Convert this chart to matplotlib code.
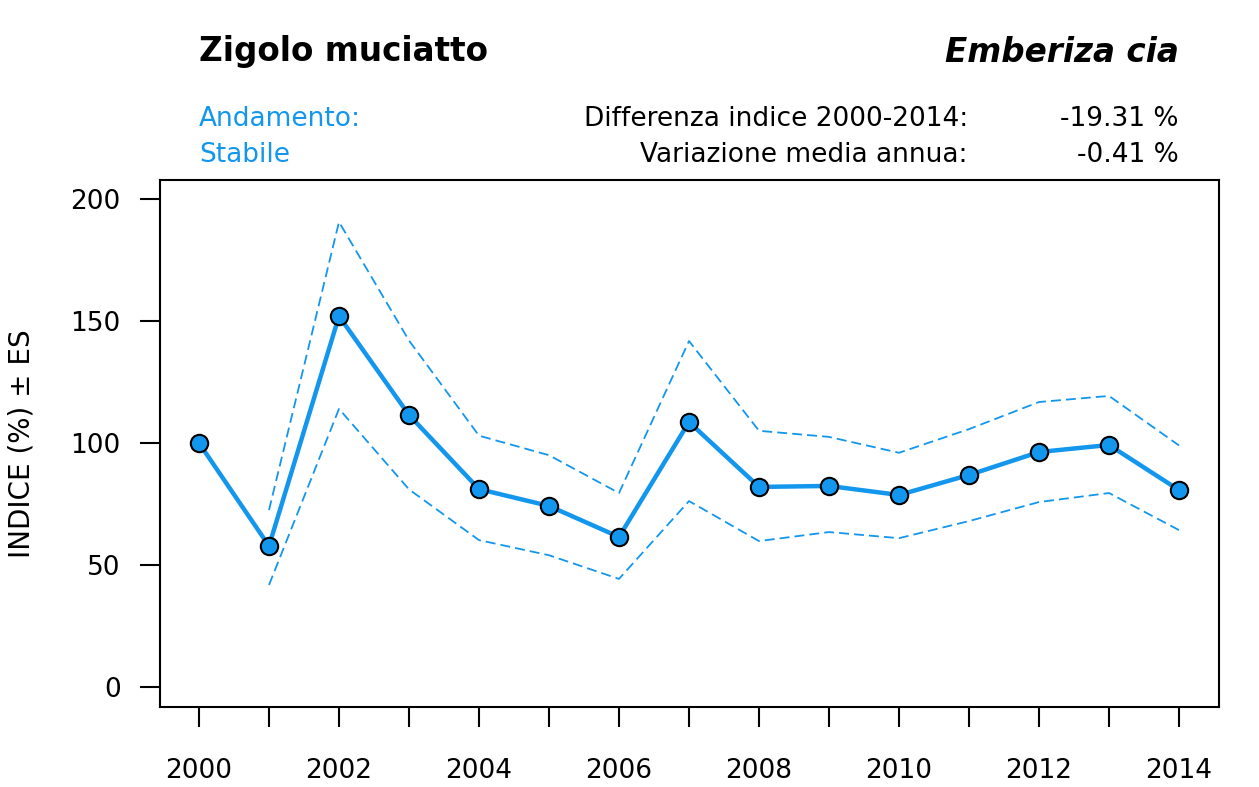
import numpy as np
import matplotlib
matplotlib.use('Agg')
import matplotlib.pyplot as plt

plt.rcParams['font.family'] = ['DejaVu Sans']

# Index values
years = list(range(2000, 2015))
indice = [100, 57.8, 152, 111.5, 81.1, 74.2, 61.5, 108.6, 82.0, 82.4, 78.7, 86.9, 96.3, 99.2, 80.7]
# standard error band (no band for the base year)
es_sup = [np.nan, 72.5, 190.6, 142, 103, 95, 79.5, 141.8, 105, 102.5, 96, 105.7, 116.8, 119.3, 99]
es_inf = [np.nan, 41.8, 114, 81, 60.2, 54, 44.3, 76.2, 59.8, 63.5, 61, 68, 75.8, 79.5, 64.3]

nome = "Zigolo muciatto"
nome_sci = "Emberiza cia"
andamento = "Stabile"
diff_txt = "-19.31 %"
var_txt = "-0.41 %"

blu = '#1296ee'

fig = plt.figure(figsize=(12.59, 7.87), dpi=100)
ax = fig.add_axes([160/1259, 80/787, 1059/1259, 527/787])

ax.plot(years, es_sup, color=blu, lw=1.3, ls=(0, (5.5, 2.8)))
ax.plot(years, es_inf, color=blu, lw=1.3, ls=(0, (5.5, 2.8)))
ax.plot(years, indice, color=blu, lw=3.2, marker='o', ms=12.5,
        markerfacecolor=blu, markeredgecolor='black', markeredgewidth=1.5)

ax.set_xlim(1999.443, 2014.571)
ax.set_ylim(-8.2, 207.8)
ax.set_xticks(years)
ax.set_xticklabels([str(y) if y % 2 == 0 else '' for y in years])
ax.set_yticks([0, 50, 100, 150, 200])
ax.tick_params(axis='both', direction='out', length=14.4, width=1.5, labelsize=19)
ax.tick_params(axis='x', pad=22)
ax.tick_params(axis='y', pad=14)
for s in ax.spines.values():
    s.set_linewidth(1.5)
ax.set_ylabel("INDICE (%) ± ES", fontsize=20)
ax.yaxis.set_label_coords(-124/1059, 0.5)

# header texts
fig.text(199/1259, 1 - 52/787, nome, fontsize=23.5, fontweight='bold', va='center', ha='left')
fig.text(1179/1259, 1 - 52/787, nome_sci, fontsize=23.5, fontweight='bold', style='italic',
         va='center', ha='right')
fig.text(199/1259, 1 - 119/787, "Andamento:", fontsize=19, color=blu, va='center', ha='left')
fig.text(199/1259, 1 - 155/787, andamento, fontsize=19, color=blu, va='center', ha='left')
fig.text(968/1259, 1 - 119/787, "Differenza indice 2000-2014:", fontsize=19, va='center', ha='right')
fig.text(968/1259, 1 - 155/787, "Variazione media annua:", fontsize=19, va='center', ha='right')
fig.text(1179/1259, 1 - 119/787, diff_txt, fontsize=19, va='center', ha='right')
fig.text(1179/1259, 1 - 155/787, var_txt, fontsize=19, va='center', ha='right')

plt.savefig("out.png", dpi=100)
